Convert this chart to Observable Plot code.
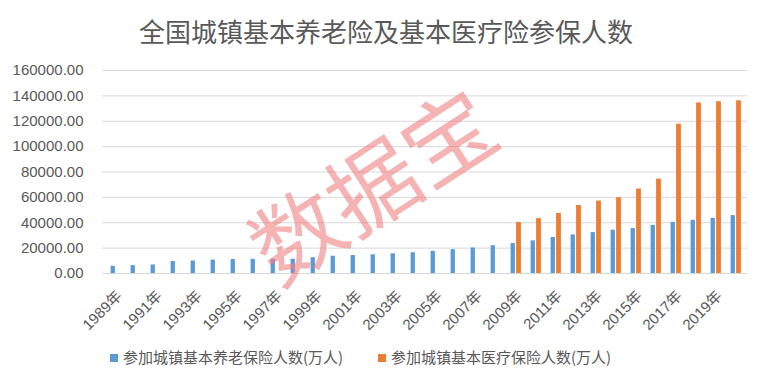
<!DOCTYPE html>
<html><head><meta charset="utf-8">
<script src="https://cdn.jsdelivr.net/npm/d3@7"></script>
<script src="https://cdn.jsdelivr.net/npm/@observablehq/plot@0.6"></script>
<style>
body{margin:0;background:#fff;width:772px;height:390px;overflow:hidden;position:relative;font-family:"Noto Sans CJK SC",sans-serif;}
#title{box-sizing:border-box;height:55px;padding-top:18px;line-height:1;text-align:center;font-size:26px;color:#595959;font-family:"Noto Sans CJK SC",sans-serif;}
#chart svg{display:block;}
.leg{position:absolute;top:347px;font-size:15px;line-height:19px;color:#595959;font-family:"Noto Sans CJK SC",sans-serif;white-space:nowrap;}
.sw{display:inline-block;width:8px;height:8px;margin-right:5px;vertical-align:1px;}
#wm{position:absolute;left:0;top:0;pointer-events:none;}
</style></head><body>
<div id="title"></div>
<div id="chart"></div>
<div id="legend"></div>
<svg id="wm" width="772" height="390"></svg>
<script>
const titleText = "全国城镇基本养老险及基本医疗险参保人数";
const years = [1989,1990,1991,1992,1993,1994,1995,1996,1997,1998,1999,2000,2001,2002,2003,2004,2005,2006,2007,2008,2009,2010,2011,2012,2013,2014,2015,2016,2017,2018,2019,2020];
const seriesNames = ["参加城镇基本养老保险人数(万人)", "参加城镇基本医疗保险人数(万人)"];
const colors = ["#5b9bd5", "#ed7d31"];
const pension = [5710,6166,6740,9456,9848,10574,10979,11117,11204,11203,12485,13617,14183,14737,15507,16353,17488,18766,20137,21891,23550,25707,28391,30427,32218,34124,35361,37930,40293,41902,43488,45621];
const medical = [null,null,null,null,null,null,null,null,null,null,null,null,null,null,null,null,null,null,null,null,40147,43263,47343,53641,57073,59747,66582,74392,117681,134459,135407,136131];
const yTicks = [0,20000,40000,60000,80000,100000,120000,140000,160000];
const xTicks = [1989,1991,1993,1995,1997,1999,2001,2003,2005,2007,2009,2011,2013,2015,2017,2019];
const watermark = "数据宝";

document.getElementById("title").textContent = titleText;

const rowsA = years.map((y,i)=>({year:y, value:pension[i]}));
const rowsB = years.map((y,i)=>({year:y, value:medical[i]})).filter(d=>d.value!=null);

const chart = Plot.plot({
  width: 772, height: 285,
  marginTop: 15, marginBottom: 67, marginLeft: 102, marginRight: 25,
  style: {fontFamily: "'Liberation Sans','Noto Sans CJK SC',sans-serif", fontSize: "15px", color: "#595959", background: "#fff"},
  x: {type: "band", domain: years, padding: 0, label: null},
  y: {domain: [0,160000], label: null},
  marks: [
    Plot.gridY(yTicks, {stroke: "#d9d9d9", strokeOpacity: 1, strokeWidth: 1}),
    Plot.barY(rowsA, {x: "year", y: "value", fill: colors[0], insetLeft: 5.6, insetRight: 10.1}),
    Plot.barY(rowsB, {x: "year", y: "value", fill: colors[1], insetLeft: 11.1, insetRight: 4.1}),
    Plot.ruleY([0], {stroke: "#d9d9d9", strokeWidth: 1}),
    Plot.axisY(yTicks, {tickSize: 0, tickPadding: 19, tickFormat: d => d.toFixed(2), label: null, fill: "#595959"}),
    Plot.axisX(xTicks, {tickSize: 0, tickRotate: -45, tickPadding: 20, dx: 4, tickFormat: d => d + "年", label: null, fill: "#595959", fontSize: 15})
  ]
});
document.getElementById("chart").appendChild(chart);

const legend = document.getElementById("legend");
const legLeft = [110, 378];
seriesNames.forEach((n,i)=>{
  const d = document.createElement("div");
  d.className = "leg";
  d.style.left = legLeft[i] + "px";
  d.innerHTML = `<span class="sw" style="background:${colors[i]}"></span>${n}`;
  legend.appendChild(d);
});

const wm = d3.select("#wm");
wm.append("text")
  .attr("transform", "translate(370,182) rotate(-33)")
  .attr("text-anchor", "middle")
  .attr("dominant-baseline", "central")
  .attr("font-family", "'Noto Sans CJK SC',sans-serif")
  .attr("font-size", 90)
  .attr("letter-spacing", 0)
  .attr("fill", "#f08080")
  .attr("fill-opacity", 0.6)
  .text(watermark);
</script>
</body></html>
